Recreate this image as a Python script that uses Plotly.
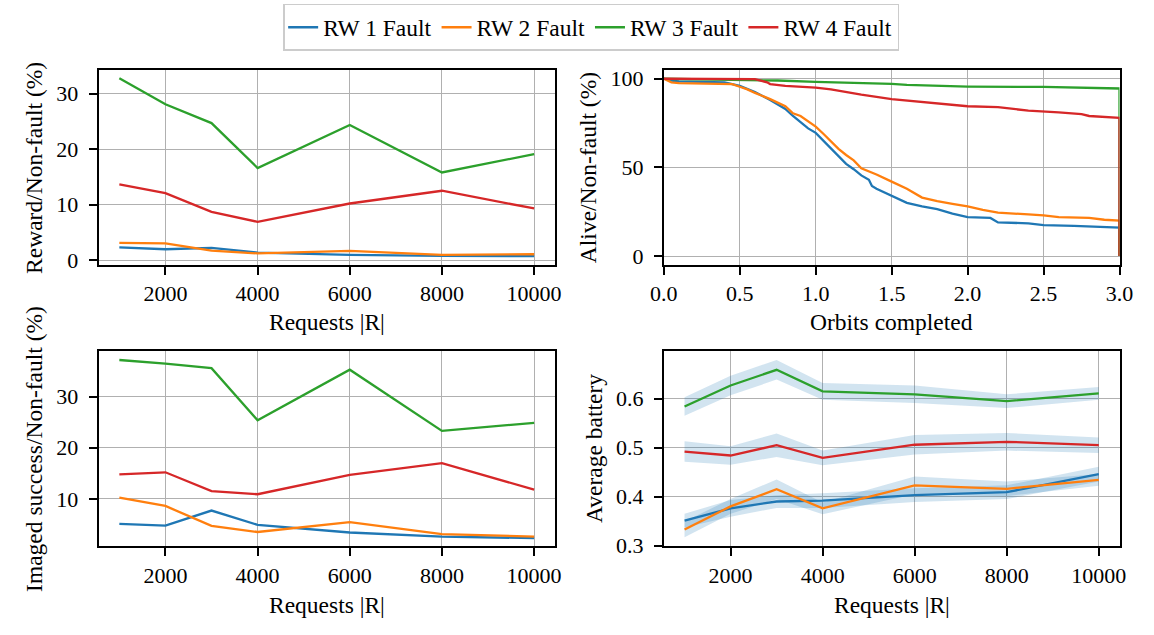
import plotly.graph_objects as go

# ---------------- data ----------------
requests = [1000, 2000, 3000, 4000, 6000, 8000, 10000]
series_names = ["RW 1 Fault", "RW 2 Fault", "RW 3 Fault", "RW 4 Fault"]
colors = ["#1f77b4", "#ff7f0e", "#2ca02c", "#d62728"]

# Reward / Non-fault (%)
reward_rw1 = [2.3, 1.95, 2.2, 1.35, 0.95, 0.75, 0.7]
reward_rw2 = [3.1, 3.0, 1.7, 1.2, 1.65, 0.95, 1.05]
reward_rw3 = [32.8, 28.1, 24.7, 16.6, 24.35, 15.8, 19.1]
reward_rw4 = [13.65, 12.06, 8.7, 6.9, 10.2, 12.5, 9.3]

# Imaged success / Non-fault (%)
imaged_rw1 = [5.1, 4.75, 7.7, 4.9, 3.4, 2.6, 2.3]
imaged_rw2 = [10.25, 8.6, 4.7, 3.5, 5.45, 3.1, 2.6]
imaged_rw3 = [37.2, 36.5, 35.6, 25.4, 35.3, 23.3, 24.9]
imaged_rw4 = [14.8, 15.2, 11.5, 10.9, 14.7, 17.0, 11.8]

# Average battery (mean and band half-width)
battery_rw1 = [0.351, 0.376, 0.390, 0.392, 0.403, 0.409, 0.446]
battery_rw2 = [0.333, 0.380, 0.415, 0.376, 0.423, 0.416, 0.434]
battery_rw3 = [0.584, 0.627, 0.659, 0.615, 0.609, 0.595, 0.611]
battery_rw4 = [0.492, 0.484, 0.505, 0.479, 0.506, 0.512, 0.505]
battery_err_rw1 = [0.014, 0.017, 0.013, 0.015, 0.014, 0.014, 0.015]
battery_err_rw2 = [0.016, 0.015, 0.020, 0.012, 0.018, 0.015, 0.012]
battery_err_rw3 = [0.019, 0.020, 0.020, 0.017, 0.018, 0.014, 0.013]
battery_err_rw4 = [0.021, 0.019, 0.024, 0.015, 0.020, 0.018, 0.016]

# Alive / Non-fault (%) vs orbits completed
orbits_rw1 = [0.0, 0.05, 0.1, 0.4, 0.5, 0.6, 0.7, 0.8, 0.85, 0.9, 0.95, 1.0, 1.05, 1.1, 1.15,
              1.2, 1.25, 1.3, 1.35, 1.37, 1.4, 1.5, 1.6, 1.7, 1.8, 1.9, 2.0, 2.15, 2.2, 2.4,
              2.5, 2.7, 2.9, 3.0, 3.0]
alive_rw1 = [100, 99, 98.5, 98, 96, 92.5, 88, 83, 79, 75.5, 72, 69.5, 65, 60.5, 56,
             52, 49, 45.5, 43, 39.5, 38, 34, 30, 28, 26.5, 24, 22, 21.5, 19, 18.5,
             17.5, 17, 16.5, 16, 0]
orbits_rw2 = [0.0, 0.05, 0.1, 0.45, 0.5, 0.55, 0.6, 0.7, 0.8, 0.85, 0.9, 0.95, 1.0, 1.05,
              1.1, 1.15, 1.2, 1.25, 1.3, 1.4, 1.5, 1.6, 1.7, 1.8, 1.9, 2.0, 2.1, 2.2, 2.4,
              2.5, 2.6, 2.8, 2.9, 3.0, 3.0]
alive_rw2 = [100, 98, 97.5, 97, 95.5, 94, 92, 88.5, 84.5, 80.5, 79, 76, 73, 69,
             64.5, 60.5, 57, 54, 49.5, 46, 42, 38, 33, 31, 29.5, 28, 26, 24.5, 23.5,
             23, 22, 21.5, 20.5, 20, 0]
orbits_rw3 = [0.0, 0.5, 0.75, 1.0, 1.25, 1.5, 1.6, 1.75, 2.0, 2.5, 2.8, 3.0, 3.0]
alive_rw3 = [100, 99.5, 99, 98.2, 97.8, 97.1, 96.5, 96.2, 95.6, 95.4, 94.8, 94.5, 0]
orbits_rw4 = [0.0, 0.6, 0.68, 0.7, 0.8, 1.0, 1.1, 1.2, 1.3, 1.5, 1.7, 1.8, 2.0, 2.2,
              2.3, 2.4, 2.6, 2.75, 2.8, 3.0, 3.0]
alive_rw4 = [100, 99.8, 98, 97, 96, 95, 94, 92.5, 91, 88.5, 87, 86, 84.5, 84,
             83, 82, 81, 80, 79, 78, 0]

reward = [reward_rw1, reward_rw2, reward_rw3, reward_rw4]
imaged = [imaged_rw1, imaged_rw2, imaged_rw3, imaged_rw4]
battery = [battery_rw1, battery_rw2, battery_rw3, battery_rw4]
battery_err = [battery_err_rw1, battery_err_rw2, battery_err_rw3, battery_err_rw4]
orbits = [orbits_rw1, orbits_rw2, orbits_rw3, orbits_rw4]
alive = [alive_rw1, alive_rw2, alive_rw3, alive_rw4]

# ---------------- figure ----------------
FONT = "Liberation Serif"
FS_TICK = 22
FS = 23.5
LW = 2.3
BAND = "rgba(31,119,180,0.2)"

fig = go.Figure()

for i in range(4):
    fig.add_trace(go.Scatter(x=requests, y=reward[i], mode="lines", name=series_names[i],
                             line=dict(color=colors[i], width=LW), xaxis="x", yaxis="y",
                             legendgroup=series_names[i], showlegend=True))
for i in range(4):
    fig.add_trace(go.Scatter(x=orbits[i], y=alive[i], mode="lines", name=series_names[i],
                             line=dict(color=colors[i], width=LW), xaxis="x2", yaxis="y2",
                             legendgroup=series_names[i], showlegend=False))
for i in range(4):
    fig.add_trace(go.Scatter(x=requests, y=imaged[i], mode="lines", name=series_names[i],
                             line=dict(color=colors[i], width=LW), xaxis="x3", yaxis="y3",
                             legendgroup=series_names[i], showlegend=False))
for i in range(4):
    upper = [m + e for m, e in zip(battery[i], battery_err[i])]
    lower = [m - e for m, e in zip(battery[i], battery_err[i])]
    fig.add_trace(go.Scatter(x=requests + requests[::-1], y=upper + lower[::-1],
                             mode="lines", fill="toself", fillcolor=BAND,
                             line=dict(width=0, color=BAND), hoverinfo="skip",
                             xaxis="x4", yaxis="y4", showlegend=False))
for i in range(4):
    fig.add_trace(go.Scatter(x=requests, y=battery[i], mode="lines", name=series_names[i],
                             line=dict(color=colors[i], width=LW), xaxis="x4", yaxis="y4",
                             legendgroup=series_names[i], showlegend=False))

W, H = 1154, 635
def px(x): return x / W
def py(y): return 1 - y / H

xl = [px(86.7), px(554.3)]
xr = [px(666), px(1133)]
yt = [py(268.3), py(68.5)]
yb = [py(556.5), py(356)]

common = dict(showline=True, mirror=True, linecolor="black", linewidth=1.7,
              ticks="outside", ticklen=8, tickwidth=1.5, tickcolor="black",
              showgrid=True, gridcolor="#b0b0b0", gridwidth=1, zeroline=False,
              tickfont=dict(family=FONT, size=FS_TICK, color="black"))
ycommon = dict(ticklabelstandoff=6, **common)

req_ticks = dict(tickmode="array", tickvals=[2000, 4000, 6000, 8000, 10000],
                 ticktext=["2000", "4000", "6000", "8000", "10000"], range=[550, 10450])

fig.update_layout(
    width=W, height=H,
    margin=dict(l=0, r=0, t=0, b=0),
    paper_bgcolor="white", plot_bgcolor="white",
    font=dict(family=FONT, size=FS, color="black"),
    xaxis=dict(domain=xl, anchor="y", **req_ticks, **common),
    yaxis=dict(domain=yt, anchor="x", range=[-0.88, 34.29], tickvals=[0, 10, 20, 30], **ycommon),
    xaxis2=dict(domain=xr, anchor="y2", range=[0, 3], tickvals=[0, 0.5, 1, 1.5, 2, 2.5, 3],
                ticktext=["0.0", "0.5", "1.0", "1.5", "2.0", "2.5", "3.0"], **common),
    yaxis2=dict(domain=yt, anchor="x2", range=[-5, 105], tickvals=[0, 50, 100], **ycommon),
    xaxis3=dict(domain=xl, anchor="y3", **req_ticks, **common),
    yaxis3=dict(domain=yb, anchor="x3", range=[0.69, 39.04], tickvals=[10, 20, 30], **ycommon),
    xaxis4=dict(domain=xr, anchor="y4", **req_ticks, **common),
    yaxis4=dict(domain=yb, anchor="x4", range=[0.2984, 0.6983], tickvals=[0.3, 0.4, 0.5, 0.6],
                ticktext=["0.3", "0.4", "0.5", "0.6"], **ycommon),
    legend=dict(orientation="h", x=px(591.5), y=py(1), xanchor="center", yanchor="top",
                bordercolor="#cccccc", borderwidth=1.5, bgcolor="white",
                font=dict(family=FONT, size=FS, color="black"),
                itemwidth=30, tracegroupgap=0),
    showlegend=True,
)

def title(text, x, y, angle=0):
    fig.add_annotation(text=text, x=px(x), y=py(y), xref="paper", yref="paper",
                       showarrow=False, xanchor="center", yanchor="middle",
                       textangle=angle, font=dict(family=FONT, size=FS, color="black"))

title("Requests |R|", 320.5, 327)
title("Orbits completed", 899.5, 327)
title("Requests |R|", 320.5, 617)
title("Requests |R|", 899.5, 617)
title("Reward/Non-fault (%)", 21, 168.4, -90)
title("Alive/Non-fault (%)", 589, 168.4, -90)
title("Imaged success/Non-fault (%)", 21, 456.2, -90)
title("Average battery", 595, 456.2, -90)

fig.write_html("out.html")
